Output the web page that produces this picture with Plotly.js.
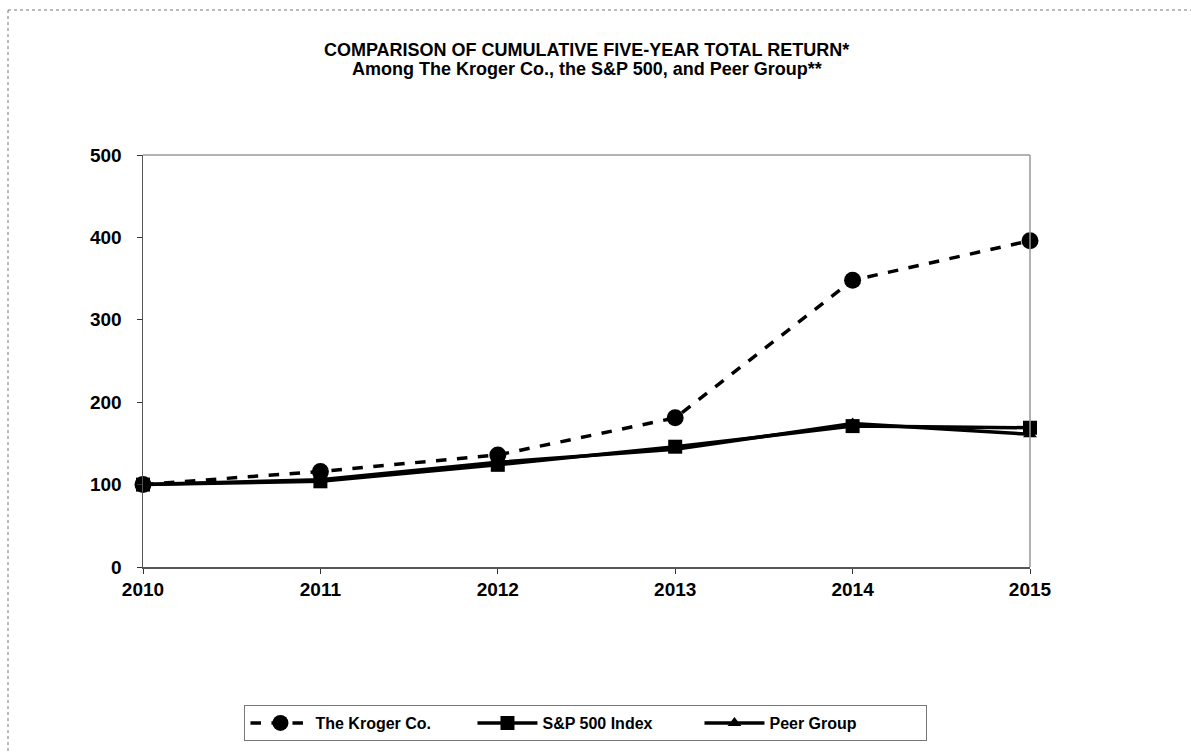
<!DOCTYPE html>
<html>
<head>
<meta charset="utf-8">
<script src="https://cdn.plot.ly/plotly-3.0.1.min.js"></script>
<style>html,body{margin:0;padding:0;background:#fff;}#chart{width:1191px;height:753px;}</style>
</head>
<body>
<div id="chart"></div>
<script>
var years = [2010, 2011, 2012, 2013, 2014, 2015];
var kroger = [100, 116, 136, 181, 348, 396];
var sp500 = [100, 104, 124, 146, 171, 169];
var peer = [100, 106, 127, 143, 174, 161];
var yTicks = [0, 100, 200, 300, 400, 500];
var titleLine1 = 'COMPARISON OF CUMULATIVE FIVE-YEAR TOTAL RETURN*';
var titleLine2 = 'Among The Kroger Co., the S&P 500, and Peer Group**';

var fam = 'Liberation Sans, Arial, sans-serif';

var traces = [
  {x: years, y: kroger, name: 'The Kroger Co.', mode: 'lines+markers', cliponaxis: false,
   line: {color: '#000', width: 3.5, dash: 'dash'},
   marker: {symbol: 'circle', size: 17, color: '#000'}},
  {x: years, y: sp500, name: 'S&P 500 Index', mode: 'lines+markers', cliponaxis: false,
   line: {color: '#000', width: 3.5},
   marker: {symbol: 'square', size: 14, color: '#000'}},
  {x: years, y: peer, name: 'Peer Group', mode: 'lines+markers', cliponaxis: false,
   line: {color: '#000', width: 3.5},
   marker: {symbol: 'triangle-up', size: 12, color: '#000'}}
];

var L = 143, R = 1030, T = 155, B = 567;
var W = R - L, H = B - T;

var layout = {
  width: 1191, height: 753,
  margin: {l: L, r: 1191 - R, t: T, b: 753 - B},
  paper_bgcolor: '#fff', plot_bgcolor: '#fff',
  showlegend: true,
  title: {
    text: '<b>' + titleLine1 + '</b>',
    font: {family: fam, size: 18, color: '#000'},
    x: 0.4925, xanchor: 'center', y: (753 - 50) / 753, yanchor: 'middle'
  },
  annotations: [
    {text: '<b>' + titleLine2 + '</b>', xref: 'paper', yref: 'paper',
     x: 0.5, y: (B - 69) / H, xanchor: 'center', yanchor: 'middle', showarrow: false,
     font: {family: fam, size: 18, color: '#000'}}
  ],
  xaxis: {
    range: [2010, 2015], tickvals: years, ticktext: years.map(String),
    showgrid: false, zeroline: false, showline: true, linecolor: '#555', linewidth: 1.5,
    ticks: 'outside', ticklen: 5, tickcolor: '#333',
    tickfont: {family: fam, size: 19, color: '#000', weight: 'bold'},
    fixedrange: true
  },
  yaxis: {
    range: [0, 500], tickvals: yTicks, ticktext: yTicks.map(String),
    showgrid: false, zeroline: false, showline: true, linecolor: '#555', linewidth: 1.5,
    ticks: 'outside', ticklen: 5, tickcolor: '#333', ticklabelstandoff: 11,
    tickfont: {family: fam, size: 19, color: '#000', weight: 'bold'},
    fixedrange: true
  },
  legend: {
    orientation: 'h', x: 0.4994, xanchor: 'center', y: -0.335, yanchor: 'top',
    bordercolor: '#777', borderwidth: 1, bgcolor: '#fff',
    font: {family: fam, size: 16, color: '#000', weight: 'bold'},
    itemwidth: 60, entrywidth: 152, traceorder: 'normal'
  },
  shapes: [
    {type: 'line', xref: 'paper', yref: 'paper', x0: 1, x1: 1, y0: 0, y1: 1,
     line: {color: '#999', width: 1.5}},
    {type: 'line', xref: 'paper', yref: 'paper', x0: 0, x1: 1, y0: 1, y1: 1,
     line: {color: '#999', width: 1.5}},
    {type: 'line', xref: 'paper', yref: 'paper',
     x0: (8 - L) / W, x1: (1200 - L) / W, y0: (B - 10) / H, y1: (B - 10) / H,
     line: {color: '#777', width: 1, dash: 'dot'}},
    {type: 'line', xref: 'paper', yref: 'paper',
     x0: (8 - L) / W, x1: (8 - L) / W, y0: (B - 10) / H, y1: (B - 760) / H,
     line: {color: '#777', width: 1, dash: 'dot'}}
  ]
};

Plotly.newPlot('chart', traces, layout, {displayModeBar: false, staticPlot: true});
</script>
</body>
</html>
